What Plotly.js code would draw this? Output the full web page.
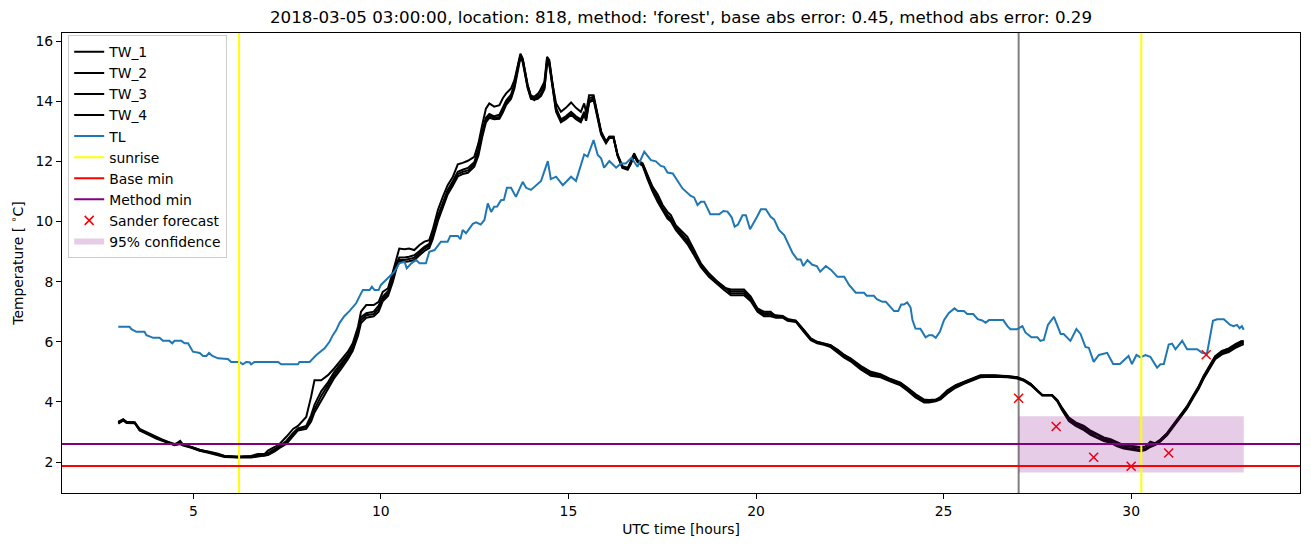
<!DOCTYPE html>
<html>
<head>
<meta charset="utf-8">
<script src="https://cdn.plot.ly/plotly-3.0.1.min.js"></script>
<style>html,body{margin:0;padding:0;background:#fff;}#chart{width:1311px;height:547px;}</style>
</head>
<body>
<div id="chart"></div>
<script>
// ---- data ----
const twX = [3.0,3.13,3.22,3.44,3.57,3.7,3.88,4.01,4.15,4.33,4.5,4.65,4.73,4.95,5.17,5.43,5.66,5.83,6.19,6.54,6.72,6.9,6.99,7.17,7.3,7.48,7.66,7.79,8.01,8.14,8.23,8.41,8.59,8.76,8.94,9.12,9.25,9.39,9.47,9.61,9.81,9.94,10.05,10.19,10.32,10.41,10.49,10.63,10.75,10.89,11.03,11.16,11.29,11.38,11.52,11.65,11.78,11.92,12.05,12.18,12.32,12.49,12.6,12.7,12.8,12.89,13.02,13.16,13.25,13.34,13.47,13.56,13.65,13.72,13.78,13.91,14.0,14.09,14.18,14.27,14.36,14.43,14.49,14.58,14.67,14.8,14.93,15.07,15.2,15.33,15.42,15.47,15.55,15.67,15.78,15.87,16.0,16.09,16.2,16.31,16.44,16.58,16.66,16.75,16.84,16.98,17.11,17.24,17.38,17.51,17.64,17.73,17.86,18.04,18.17,18.35,18.53,18.75,18.97,19.15,19.33,19.51,19.68,19.86,20.04,20.21,20.39,20.53,20.71,20.84,21.06,21.28,21.46,21.63,21.81,21.99,22.17,22.35,22.52,22.79,23.06,23.32,23.59,23.85,24.03,24.25,24.48,24.61,24.79,24.92,25.1,25.32,25.54,25.76,25.98,26.34,26.7,26.96,27.14,27.32,27.5,27.63,27.89,28.03,28.16,28.34,28.52,28.74,28.92,29.09,29.27,29.45,29.63,29.8,29.98,30.25,30.38,30.51,30.65,30.78,30.96,31.13,31.31,31.49,31.67,31.8,31.93,32.07,32.24,32.42,32.6,32.78,32.93,33.0];
const tw1 = [3.32,3.42,3.33,3.32,3.06,3.0,2.9,2.82,2.75,2.68,2.57,2.7,2.57,2.5,2.4,2.34,2.28,2.2,2.18,2.2,2.27,2.27,2.38,2.5,2.6,2.84,3.1,3.2,3.5,4.17,4.72,4.72,4.89,5.12,5.39,5.67,5.95,6.5,7.0,7.22,7.22,7.33,7.66,7.78,8.33,8.77,9.1,9.08,9.1,9.05,9.22,9.33,9.38,9.72,10.38,10.82,11.21,11.49,11.9,11.95,12.02,12.15,12.6,13.2,13.75,13.93,13.82,13.87,14.1,14.26,14.43,14.7,15.2,15.58,15.42,14.54,14.15,14.04,14.2,14.43,14.65,15.48,15.37,14.54,13.93,13.65,13.78,13.96,13.78,13.65,13.93,13.62,14.2,14.2,13.54,12.98,12.65,12.82,12.82,12.21,11.82,11.77,11.99,12.27,12.04,11.93,11.54,11.16,10.9,10.55,10.32,10.21,9.88,9.66,9.49,9.05,8.61,8.27,8.0,7.83,7.61,7.61,7.61,7.39,7.11,7.0,7.0,6.83,6.85,6.72,6.7,6.39,6.11,6.0,5.95,5.89,5.72,5.55,5.42,5.17,4.95,4.89,4.73,4.62,4.45,4.23,4.06,4.06,4.06,4.17,4.39,4.56,4.67,4.78,4.89,4.89,4.86,4.82,4.73,4.6,4.37,4.23,4.23,4.06,3.78,3.45,3.29,3.17,3.01,2.9,2.79,2.73,2.62,2.53,2.51,2.48,2.51,2.68,2.62,2.73,2.95,3.23,3.51,3.84,4.23,4.5,4.84,5.12,5.5,5.67,5.75,5.89,6.0,6.0];
const tw2 = [3.3,3.4,3.32,3.3,3.08,3.0,2.88,2.8,2.73,2.66,2.58,2.62,2.57,2.48,2.38,2.32,2.26,2.19,2.16,2.17,2.2,2.22,2.26,2.38,2.5,2.65,2.92,3.1,3.15,3.45,3.75,4.2,4.55,4.9,5.2,5.5,5.78,6.3,6.72,6.88,6.92,7.1,7.42,7.6,8.08,8.5,8.72,8.72,8.75,8.8,8.95,9.1,9.2,9.48,10.1,10.55,10.98,11.28,11.58,11.65,11.7,11.9,12.3,12.9,13.38,13.52,13.45,13.48,13.7,13.95,14.15,14.5,15.1,15.5,15.35,14.5,14.12,14.1,14.12,14.25,14.45,15.3,15.25,14.4,13.7,13.35,13.45,13.6,13.45,13.35,13.6,13.4,14.0,14.1,13.45,12.95,12.62,12.8,12.8,12.2,11.8,11.75,11.95,12.2,12.0,11.88,11.45,11.05,10.72,10.4,10.15,10.05,9.78,9.5,9.3,8.92,8.52,8.2,7.95,7.78,7.68,7.68,7.68,7.45,7.05,6.9,6.9,6.85,6.82,6.74,6.68,6.35,6.08,5.97,5.92,5.86,5.7,5.5,5.38,5.12,4.9,4.85,4.7,4.58,4.42,4.2,4.02,4.02,4.04,4.12,4.32,4.5,4.62,4.74,4.85,4.86,4.84,4.8,4.72,4.58,4.36,4.22,4.22,4.04,3.75,3.4,3.24,3.1,2.95,2.83,2.74,2.68,2.56,2.48,2.45,2.42,2.44,2.55,2.6,2.7,2.92,3.2,3.48,3.8,4.2,4.47,4.8,5.1,5.45,5.62,5.7,5.84,5.95,5.97];
const tw3 = [3.28,3.38,3.3,3.29,3.05,2.98,2.86,2.78,2.72,2.64,2.56,2.6,2.55,2.47,2.37,2.3,2.24,2.17,2.15,2.15,2.18,2.2,2.23,2.35,2.47,2.6,2.88,3.05,3.1,3.35,3.65,4.05,4.45,4.8,5.1,5.42,5.7,6.2,6.62,6.8,6.85,7.0,7.35,7.52,8.0,8.42,8.65,8.65,8.68,8.72,8.88,9.02,9.12,9.4,10.02,10.47,10.9,11.2,11.5,11.58,11.62,11.82,12.2,12.8,13.3,13.45,13.4,13.42,13.62,13.88,14.08,14.42,15.0,15.45,15.3,14.45,14.08,14.05,14.08,14.18,14.4,15.25,15.2,14.35,13.65,13.3,13.4,13.55,13.4,13.3,13.55,13.35,13.95,14.05,13.4,12.9,12.6,12.78,12.78,12.18,11.78,11.72,11.9,12.18,11.98,11.85,11.4,11.0,10.65,10.35,10.1,10.0,9.72,9.45,9.25,8.88,8.48,8.15,7.9,7.72,7.55,7.55,7.55,7.35,7.0,6.85,6.85,6.8,6.8,6.7,6.66,6.32,6.05,5.95,5.9,5.82,5.66,5.47,5.35,5.08,4.87,4.82,4.68,4.55,4.38,4.15,3.98,3.98,4.02,4.08,4.28,4.47,4.6,4.72,4.82,4.84,4.82,4.78,4.7,4.56,4.35,4.21,4.21,4.02,3.72,3.36,3.2,3.06,2.9,2.8,2.7,2.64,2.52,2.45,2.42,2.36,2.4,2.5,2.57,2.68,2.9,3.18,3.45,3.78,4.17,4.44,4.77,5.06,5.42,5.58,5.66,5.8,5.9,5.92];
const tw4 = [3.34,3.41,3.34,3.31,3.1,3.02,2.9,2.82,2.76,2.67,2.6,2.64,2.58,2.5,2.41,2.33,2.27,2.2,2.17,2.18,2.22,2.25,2.3,2.42,2.53,2.7,2.97,3.12,3.2,3.55,3.9,4.35,4.65,5.0,5.28,5.57,5.85,6.4,6.82,6.95,7.0,7.2,7.5,7.68,8.15,8.58,8.8,8.8,8.83,8.88,9.02,9.16,9.26,9.56,10.18,10.63,11.05,11.35,11.65,11.72,11.78,11.97,12.4,13.0,13.45,13.58,13.5,13.55,13.78,14.02,14.22,14.58,15.15,15.55,15.4,14.55,14.18,14.15,14.25,14.35,14.55,15.4,15.3,14.45,13.78,13.4,13.5,13.65,13.5,13.4,13.65,13.45,14.1,14.15,13.5,13.0,12.66,12.82,12.82,12.22,11.84,11.78,11.97,12.22,12.02,11.9,11.5,11.1,10.8,10.45,10.22,10.1,9.82,9.56,9.38,8.98,8.56,8.24,7.98,7.8,7.74,7.74,7.74,7.5,7.1,6.95,6.95,6.88,6.86,6.76,6.7,6.38,6.1,5.99,5.94,5.88,5.74,5.56,5.45,5.2,5.0,4.92,4.76,4.64,4.48,4.26,4.08,4.06,4.08,4.14,4.36,4.54,4.66,4.77,4.87,4.88,4.86,4.82,4.74,4.6,4.37,4.23,4.23,4.06,3.8,3.48,3.32,3.2,3.04,2.93,2.82,2.76,2.65,2.56,2.54,2.5,2.52,2.62,2.64,2.75,2.97,3.25,3.53,3.86,4.25,4.52,4.86,5.15,5.52,5.7,5.78,5.92,6.02,6.03];

const tlX = [3.0,3.3,3.35,3.48,3.7,3.75,3.93,4.1,4.19,4.36,4.44,4.5,4.68,4.77,4.86,4.99,5.17,5.26,5.35,5.42,5.51,5.66,5.92,6.01,6.23,6.32,6.41,6.5,6.54,6.63,7.26,7.34,7.79,7.83,8.1,8.28,8.5,8.63,8.72,8.81,8.9,9.03,9.16,9.34,9.47,9.52,9.7,9.76,9.83,9.94,10.0,10.19,10.36,10.49,10.63,10.69,10.81,10.94,11.03,11.2,11.29,11.43,11.6,11.78,11.85,12.05,12.12,12.18,12.27,12.45,12.54,12.66,12.76,12.85,12.94,13.02,13.1,13.2,13.28,13.36,13.47,13.6,13.78,13.87,14.0,14.27,14.45,14.53,14.67,14.85,15.07,15.2,15.42,15.51,15.67,15.78,15.87,15.95,16.09,16.27,16.4,16.53,16.68,16.84,17.02,17.2,17.33,17.46,17.55,17.64,17.78,18.04,18.26,18.35,18.44,18.53,18.62,18.78,19.02,19.13,19.24,19.35,19.43,19.52,19.64,19.73,19.84,20.02,20.13,20.26,20.39,20.48,20.61,20.75,20.85,20.97,21.1,21.19,21.26,21.37,21.5,21.62,21.71,21.86,22.0,22.17,22.35,22.48,22.66,22.88,22.95,23.14,23.22,23.37,23.46,23.68,23.79,23.87,23.94,24.03,24.12,24.17,24.25,24.38,24.52,24.61,24.7,24.79,24.9,25.01,25.14,25.29,25.38,25.54,25.63,25.79,25.91,26.03,26.12,26.21,26.59,26.7,26.78,26.96,27.1,27.18,27.34,27.5,27.58,27.67,27.78,27.94,28.12,28.2,28.38,28.54,28.65,28.78,28.87,29.0,29.14,29.36,29.52,29.7,29.93,30.02,30.14,30.25,30.38,30.51,30.69,30.78,30.87,31.0,31.09,31.18,31.36,31.49,31.76,31.89,32.02,32.18,32.29,32.47,32.64,32.73,32.82,32.89,32.95,33.0];
const tlY = [6.5,6.5,6.42,6.33,6.33,6.22,6.13,6.13,6.03,6.03,5.95,6.03,6.03,5.95,5.95,5.67,5.63,5.53,5.53,5.63,5.53,5.45,5.43,5.33,5.33,5.25,5.33,5.32,5.25,5.33,5.33,5.25,5.25,5.33,5.33,5.56,5.78,6.0,6.22,6.39,6.63,6.86,7.02,7.28,7.61,7.72,7.72,7.83,7.72,7.72,7.89,8.11,8.33,8.61,8.66,8.44,8.61,8.72,8.61,8.61,8.99,9.05,9.33,9.33,9.52,9.52,9.41,9.72,9.61,9.92,9.97,9.9,10.05,10.6,10.32,10.49,10.5,10.71,10.72,11.12,11.12,10.82,11.32,11.12,11.05,11.35,12.01,11.41,11.49,11.21,11.49,11.35,12.23,12.16,12.71,12.21,12.1,11.79,12.01,11.79,11.93,11.93,12.12,11.82,12.32,12.04,12.0,11.85,11.82,11.63,11.6,11.1,10.85,10.8,10.55,10.66,10.66,10.24,10.24,10.35,10.33,10.14,9.83,9.9,10.21,10.21,9.74,10.14,10.41,10.41,10.16,10.07,9.72,9.55,9.27,8.96,8.74,8.74,8.52,8.72,8.56,8.52,8.33,8.52,8.39,8.16,8.16,7.89,7.63,7.63,7.53,7.53,7.42,7.33,7.33,7.02,7.02,7.24,7.24,7.31,7.14,6.72,6.44,6.43,6.15,6.22,6.22,6.13,6.33,6.72,6.96,7.11,7.02,7.02,6.92,6.92,6.75,6.71,6.63,6.72,6.72,6.52,6.42,6.42,6.52,6.31,6.15,6.15,6.03,6.06,6.56,6.83,6.26,6.26,6.03,6.42,6.26,5.83,5.8,5.33,5.56,5.63,5.26,5.26,5.53,5.26,5.56,5.48,5.56,5.5,5.14,5.25,5.26,5.91,5.94,5.75,6.03,5.75,5.75,5.63,5.6,6.7,6.75,6.75,6.56,6.52,6.56,6.45,6.52,6.4];

const sunriseX = [6.22, 30.27];
const nowX = 27.0;
const baseMin = 1.87;
const methodMin = 2.6;
const sanderX = [27, 28, 29, 30, 31, 32];
const sanderY = [4.12, 3.18, 2.16, 1.86, 2.3, 5.57];
const confX = [27, 33];
const confY = [1.65, 3.52];
const xRange = [1.5, 34.5];
const yRange = [0.97, 16.27];
const titleText = "2018-03-05 03:00:00, location: 818, method: 'forest', base abs error: 0.45, method abs error: 0.29";

// ---- traces ----
const FONT = 'DejaVu Sans, sans-serif';
const traces = [];
[tw1, tw2, tw3, tw4].forEach((ys, i) => {
  traces.push({x: twX, y: ys, type: 'scatter', mode: 'lines', name: 'TW_' + (i + 1),
    line: {color: '#000000', width: 2}});
});
traces.push({x: tlX, y: tlY, type: 'scatter', mode: 'lines', name: 'TL', line: {color: '#1f77b4', width: 2}});
// legend-only entries for lines drawn as shapes
traces.push({x: [null], y: [null], type: 'scatter', mode: 'lines', name: 'sunrise', line: {color: '#ffff00', width: 2}});
traces.push({x: [null], y: [null], type: 'scatter', mode: 'lines', name: 'Base min', line: {color: '#ff0000', width: 2}});
traces.push({x: [null], y: [null], type: 'scatter', mode: 'lines', name: 'Method min', line: {color: '#800080', width: 2}});
traces.push({x: sanderX, y: sanderY, type: 'scatter', mode: 'markers', name: 'Sander forecast',
  marker: {symbol: 'x-thin-open', size: 9, color: '#ff0000', line: {color: '#ff0000', width: 1.5}}});
traces.push({x: [confX[0], confX[1], confX[1], confX[0], confX[0]],
  y: [confY[0], confY[0], confY[1], confY[1], confY[0]],
  type: 'scatter', mode: 'none', fill: 'toself', fillcolor: 'rgba(128,0,128,0.2)', name: '95% confidence'});

const shapes = [];
sunriseX.forEach(sx => shapes.push({type: 'line', xref: 'x', yref: 'paper', x0: sx, x1: sx, y0: 0, y1: 1,
  line: {color: '#ffff00', width: 2}, layer: 'above'}));
shapes.push({type: 'line', xref: 'x', yref: 'paper', x0: nowX, x1: nowX, y0: 0, y1: 1, line: {color: '#808080', width: 2}, layer: 'below'});
shapes.push({type: 'line', xref: 'paper', yref: 'y', x0: 0, x1: 1, y0: baseMin, y1: baseMin, line: {color: '#ff0000', width: 2}, layer: 'above'});
shapes.push({type: 'line', xref: 'paper', yref: 'y', x0: 0, x1: 1, y0: methodMin, y1: methodMin, line: {color: '#800080', width: 2}, layer: 'above'});

const axisCommon = {showline: true, mirror: true, linecolor: '#000', linewidth: 1, ticks: 'outside', ticklen: 5,
  tickcolor: '#000', tickwidth: 1, showgrid: false, zeroline: false, tickfont: {family: FONT, size: 13.9, color: '#000'}};

const layout = {
  width: 1311, height: 547,
  margin: {l: 62, r: 11, t: 33, b: 54},
  paper_bgcolor: '#fff', plot_bgcolor: '#fff',
  font: {family: FONT, color: '#000'},
  title: {text: titleText, font: {family: FONT, size: 16.7, color: '#000'}, x: 0.5, xref: 'paper', y: 1 - 17 / 547, yref: 'container', yanchor: 'middle'},
  xaxis: Object.assign({}, axisCommon, {range: xRange, tickvals: [5, 10, 15, 20, 25, 30],
    title: {text: 'UTC time [hours]', font: {family: FONT, size: 13.9, color: '#000'}, standoff: 6}}),
  yaxis: Object.assign({}, axisCommon, {range: yRange, tickvals: [2, 4, 6, 8, 10, 12, 14, 16],
    title: {text: 'Temperature [ <sup>∘</sup>C]', font: {family: FONT, size: 13.9, color: '#000'}, standoff: 8}}),
  shapes: shapes,
  showlegend: true,
  legend: {x: 0.005, y: 0.995, xanchor: 'left', yanchor: 'top', bgcolor: 'rgba(255,255,255,0.8)',
    bordercolor: '#cccccc', borderwidth: 1, font: {family: FONT, size: 13.9, color: '#000'}, tracegroupgap: 0}
};

Plotly.newPlot('chart', traces, layout, {staticPlot: true, displayModeBar: false});
</script>
</body>
</html>
